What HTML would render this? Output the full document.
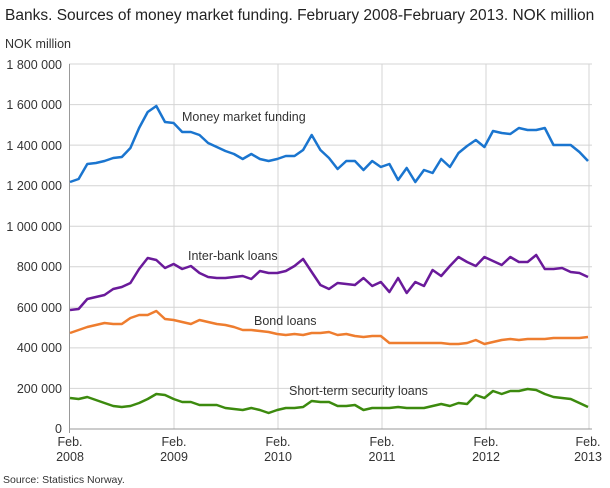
<!DOCTYPE html>
<html><head><meta charset="utf-8"><style>
body{margin:0;background:#fff;}
svg{display:block;font-family:"Liberation Sans",sans-serif;}
</style></head><body>
<svg id="s" width="610" height="488" xmlns="http://www.w3.org/2000/svg">
<text x="5" y="20" font-size="15.5" fill="#222">Banks. Sources of money market funding. February 2008-February 2013. NOK million</text>
<text x="5" y="48" font-size="12.5" fill="#333">NOK million</text>
<g stroke="#d4d4d4" stroke-width="1">
<line x1="69" x2="592" y1="64" y2="64"/><line x1="69" x2="592" y1="104.6" y2="104.6"/><line x1="69" x2="592" y1="145.1" y2="145.1"/><line x1="69" x2="592" y1="185.7" y2="185.7"/><line x1="69" x2="592" y1="226.2" y2="226.2"/><line x1="69" x2="592" y1="266.8" y2="266.8"/><line x1="69" x2="592" y1="307.3" y2="307.3"/><line x1="69" x2="592" y1="347.9" y2="347.9"/><line x1="69" x2="592" y1="388.4" y2="388.4"/>
<line x1="174" x2="174" y1="64" y2="429"/><line x1="278" x2="278" y1="64" y2="429"/><line x1="382" x2="382" y1="64" y2="429"/><line x1="486" x2="486" y1="64" y2="429"/><line x1="589" x2="589" y1="64" y2="429"/>
</g>
<line x1="69" x2="592" y1="429" y2="429" stroke="#999"/>
<line x1="69.5" x2="69.5" y1="64" y2="433" stroke="#999"/>
<g font-size="12.5" fill="#333" text-anchor="end">
<text x="62" y="69">1 800 000</text><text x="62" y="109">1 600 000</text><text x="62" y="150">1 400 000</text><text x="62" y="190">1 200 000</text><text x="62" y="231">1 000 000</text><text x="62" y="271">800 000</text><text x="62" y="312">600 000</text><text x="62" y="352">400 000</text><text x="62" y="393">200 000</text><text x="62" y="433">0</text>
</g>
<g font-size="12.5" fill="#333" text-anchor="middle">
<text x="70" y="446">Feb.</text><text x="70" y="461">2008</text>
<text x="174" y="446">Feb.</text><text x="174" y="461">2009</text>
<text x="278" y="446">Feb.</text><text x="278" y="461">2010</text>
<text x="382" y="446">Feb.</text><text x="382" y="461">2011</text>
<text x="486" y="446">Feb.</text><text x="486" y="461">2012</text>
<text x="588" y="446">Feb.</text><text x="588" y="461">2013</text>
</g>
<g font-size="12.5" fill="#333">
<text x="182" y="121">Money market funding</text>
<text x="188" y="260">Inter-bank loans</text>
<text x="254" y="325">Bond loans</text>
<text x="289" y="395">Short-term security loans</text>
</g>
<text x="3" y="483" font-size="10.5" fill="#333">Source: Statistics Norway.</text>
</svg>
<script>
var d={
"#1a75cf":[182,179,164,163,161,158,157,148,128,112,106,122,123,132,132,135,143,147,151,154,159,154,159,161,159,156,156,150,135,150,158,169,161,161,170,161,167,164,180,168,182,170,173,159,167,153,146,140,147,131,133,134,128,130,130,128,145,145,145,152,161],
"#6a1a9a":[310,309,299,297,295,289,287,283,269,258,260,268,264,269,266,273,277,278,278,277,276,279,271,273,273,271,266,259,272,285,289,283,284,285,278,286,282,292,278,293,282,286,270,276,266,257,262,266,257,261,265,257,262,262,255,269,269,268,272,273,277],
"#ee7d2f":[333,330,327,325,323,324,324,318,315,315,311,319,320,322,324,320,322,324,325,327,330,330,331,332,334,335,334,335,333,333,332,335,334,336,337,336,336,343,343,343,343,343,343,343,344,344,343,340,344,342,340,339,340,339,339,339,338,338,338,338,337],
"#3c8a0e":[398,399,397,400,403,406,407,406,403,399,394,395,399,402,402,405,405,405,408,409,410,408,410,413,410,408,408,407,401,402,402,406,406,405,410,408,408,408,407,408,408,408,406,404,406,403,404,395,398,391,394,391,391,389,390,394,397,398,399,403,407]};
var s=document.getElementById('s');
for(var c in d){var p=d[c].map(function(y,i){return (70+i*(588-70)/60).toFixed(1)+','+y}).join(' ');
var e=document.createElementNS('http://www.w3.org/2000/svg','polyline');
e.setAttribute('points',p);e.setAttribute('fill','none');e.setAttribute('stroke',c);e.setAttribute('stroke-width','2.5');e.setAttribute('stroke-linejoin','round');s.appendChild(e);}
</script>
</body></html>
